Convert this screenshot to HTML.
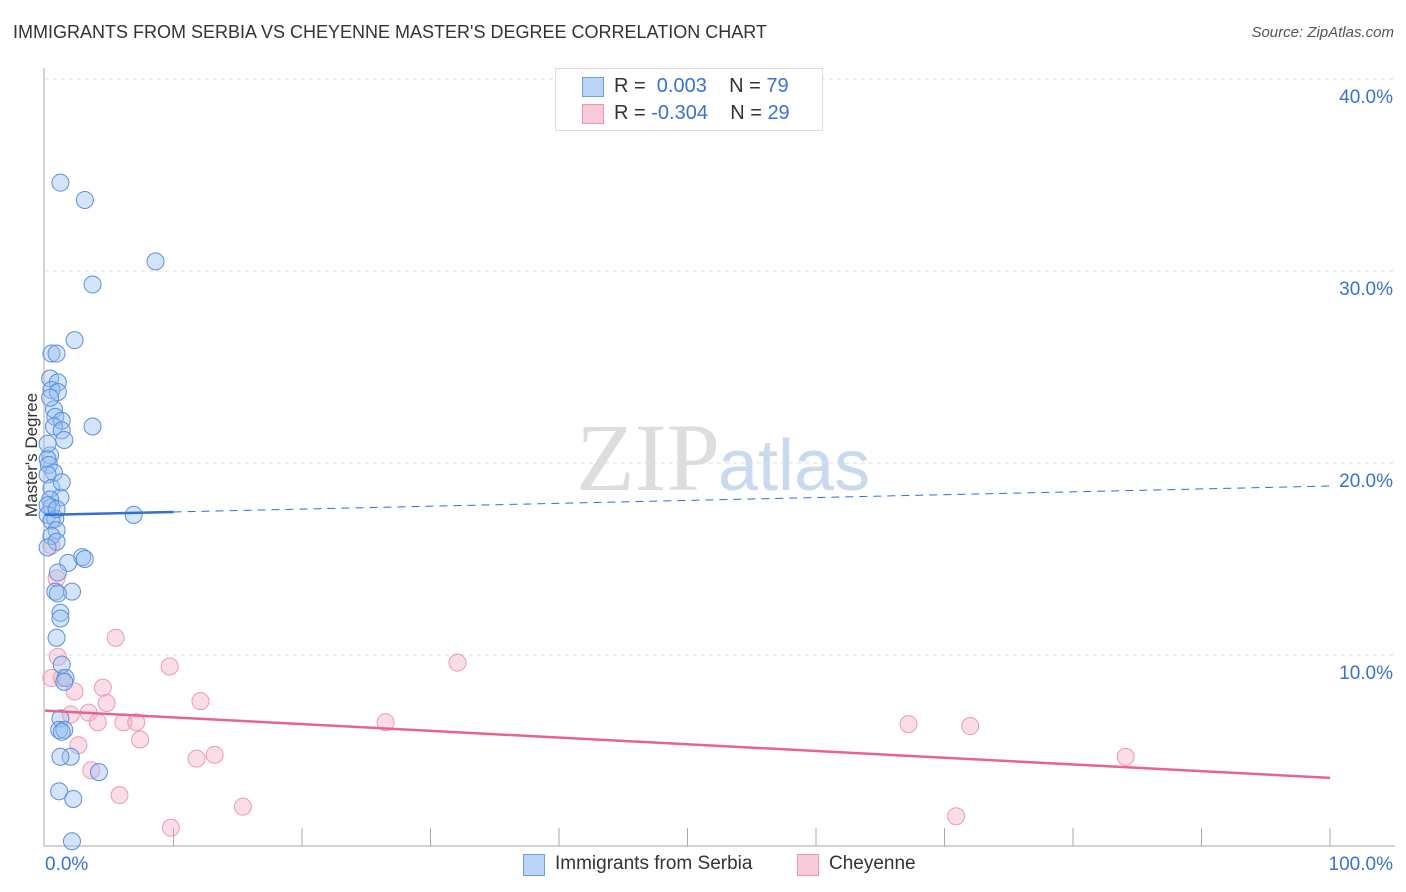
<!DOCTYPE html>
<html><head><meta charset="utf-8"><style>
body{margin:0;background:#fff;font-family:"Liberation Sans",sans-serif;}
#wrap{position:relative;width:1406px;height:892px;overflow:hidden}
.t{position:absolute;white-space:nowrap}
</style></head><body><div id="wrap">
<div class="t" style="left:13px;top:22px;font-size:18px;color:#333">IMMIGRANTS FROM SERBIA VS CHEYENNE MASTER'S DEGREE CORRELATION CHART</div>
<div class="t" style="right:12px;top:24px;font-size:15px;color:#555;font-style:italic">Source: ZipAtlas.com</div>
<svg id="svg" width="1406" height="892" style="position:absolute;left:0;top:0">
<text x="720" y="490" font-family="Liberation Serif" font-size="96" fill="#ddd" text-anchor="end">ZIP</text>
<text x="718" y="490" font-family="Liberation Sans" font-size="72" fill="#c9d9ee">atlas</text>
</svg>
<div class="t" style="left:-30px;top:445px;font-size:17px;color:#333;transform:rotate(-90deg)">Master's Degree</div>
<div style="position:absolute;left:555px;top:68px;width:266px;height:61px;border:1px solid #ddd;background:#fff;font-size:20px">
<div style="position:absolute;left:26px;top:8px;width:20px;height:18px;background:#b9d4f5;border:1px solid #6f9ee0"></div>
<div class="t" style="left:58px;top:6px;color:#333">R = <span style="color:#3a72d0">&nbsp;0.003</span>&nbsp;&nbsp;&nbsp; N = <span style="color:#3a72d0">79</span></div>
<div style="position:absolute;left:26px;top:35px;width:20px;height:18px;background:#f9cad7;border:1px solid #e99ab2"></div>
<div class="t" style="left:58px;top:33px;color:#333">R = <span style="color:#3a72d0">-0.304</span>&nbsp;&nbsp;&nbsp; N = <span style="color:#3a72d0">29</span></div>
</div>
<div style="position:absolute;left:523px;top:853px;font-size:19px;color:#333">
<div style="position:absolute;left:0;top:1px;width:20px;height:20px;background:#b9d4f5;border:1px solid #6f9ee0"></div>
<div class="t" style="left:32px;top:0">Immigrants from Serbia</div>
<div style="position:absolute;left:274px;top:1px;width:20px;height:20px;background:#f9cad7;border:1px solid #e99ab2"></div>
<div class="t" style="left:306px;top:0">Cheyenne</div>
</div>
</div>
<script>
const yTicks=[10,20,30,40];
const yTickLabels=["10.0%","20.0%","30.0%","40.0%"];
const xTickLabels=["0.0%","100.0%"];
const serbiaX=[1.2,3.1,8.6,3.7,2.3,0.5,0.9,0.4,1.0,0.5,1.0,0.7,0.8,1.3,3.7,0.7,1.3,1.5,0.4,0.2,0.3,0.7,0.2,0.5,1.2,0.4,0.5,0.2,0.8,0.5,6.9,0.9,0.5,0.9,0.2,2.9,3.1,1.8,1.0,0.8,2.1,1.0,1.2,1.2,0.9,1.3,1.6,1.5,1.2,1.1,1.5,1.3,2.0,1.2,4.2,1.1,2.2,2.1,0.2,0.4,0.2,0.9,1.3];
const serbiaY=[34.6,33.7,30.5,29.3,26.4,25.7,25.7,24.4,24.2,23.8,23.7,22.8,22.4,22.2,21.9,21.9,21.7,21.2,20.4,20.2,19.9,19.5,19.4,18.7,18.2,18.1,17.7,17.3,17.1,17.0,17.3,16.5,16.2,15.9,15.6,15.1,15.0,14.8,14.3,13.3,13.3,13.2,12.2,11.9,10.9,9.5,8.8,8.6,6.7,6.1,6.1,6.0,4.7,4.7,3.9,2.9,2.5,0.3,21.0,23.4,17.8,17.6,19.0];
const cheyX=[0.5,0.9,5.5,9.7,32.1,1.0,1.3,0.5,2.3,4.5,4.8,12.1,3.4,2.0,4.1,6.1,7.1,26.5,67.2,72.0,7.4,2.6,13.2,11.8,3.6,5.8,15.4,9.8,70.9,84.1];
const cheyY=[15.7,14.0,10.9,9.4,9.6,9.9,8.8,8.8,8.1,8.3,7.5,7.6,7.0,6.9,6.5,6.5,6.5,6.5,6.4,6.3,5.6,5.3,4.8,4.6,4.0,2.7,2.1,1.0,1.6,4.7];
const serbiaTrend=[17.3,18.8];
const cheyTrend=[7.1,3.6];
const X0=45,X1=1330,Y0=847,PX=19.2;
const sx=v=>X0+(X1-X0)*v/100, sy=v=>Y0-v*PX;
const svg=document.getElementById('svg'),NS='http://www.w3.org/2000/svg';
function mk(t,a){const e=document.createElementNS(NS,t);for(const k in a)e.setAttribute(k,a[k]);svg.appendChild(e);return e;}
yTicks.forEach((v,i)=>{
 const g=mk('line',{x1:45,x2:1395,y1:sy(v),y2:sy(v),stroke:'#ddd','stroke-dasharray':'4,4'});
 
 
 const t=mk('text',{x:1393,y:sy(v)+24,'text-anchor':'end','font-size':19,fill:'#3a72d0','font-family':'Liberation Sans'});
 t.textContent=yTickLabels[i];
 
 
});
const ax=mk('line',{x1:44,x2:44,y1:68,y2:846,stroke:'#aaa'});


const bx=mk('line',{x1:44,x2:1395,y1:846,y2:846,stroke:'#aaa'});


for(let i=1;i<=10;i++){const l=mk('line',{x1:sx(i*10),x2:sx(i*10),y1:828,y2:846,stroke:'#aaa'});
 
 }
[[0,'start',45],[1,'end',1393]].forEach(([i,a,x])=>{const t=mk('text',{x:x,y:870,'text-anchor':a,'font-size':19,fill:'#3a72d0','font-family':'Liberation Sans'});t.textContent=xTickLabels[i];
 
 });
cheyX.forEach((x,i)=>{const c=mk('circle',{cx:sx(x),cy:sy(cheyY[i]),r:8.5,fill:'rgba(246,170,195,0.4)',stroke:'#ec9ab4','stroke-width':1});
 
 });
serbiaX.forEach((x,i)=>{const c=mk('circle',{cx:sx(x),cy:sy(serbiaY[i]),r:8.5,fill:'rgba(150,190,240,0.4)',stroke:'#5b8fdc','stroke-width':1});
 
 });
const ty=x=>serbiaTrend[0]+(serbiaTrend[1]-serbiaTrend[0])*x/100;
const l1=mk('line',{x1:sx(0),y1:sy(ty(0)),x2:sx(10),y2:sy(ty(10)),stroke:'#2f6fd6','stroke-width':2.5});


const l2=mk('line',{x1:sx(10),y1:sy(ty(10)),x2:sx(100),y2:sy(ty(100)),stroke:'#2f6fd6','stroke-width':1,'stroke-dasharray':'8,6'});


const l3=mk('line',{x1:sx(0),y1:sy(cheyTrend[0]),x2:sx(100),y2:sy(cheyTrend[1]),stroke:'#e8648f','stroke-width':2.5});


</script></body></html>
